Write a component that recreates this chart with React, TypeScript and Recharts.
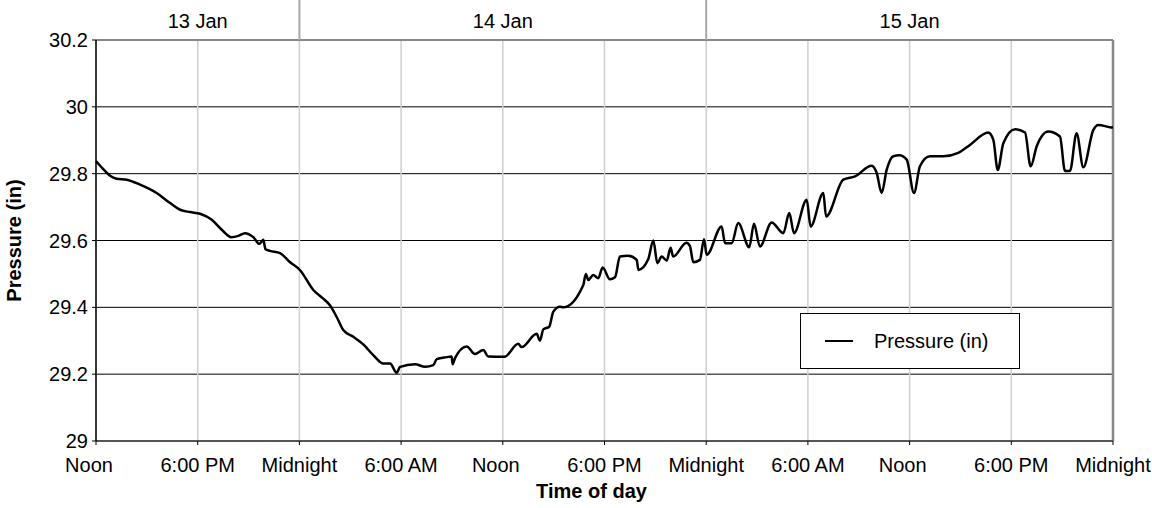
import React from "react";
import {
  LineChart,
  Line,
  XAxis,
  YAxis,
  CartesianGrid,
  ReferenceLine,
  Legend,
} from "recharts";

// hours since noon on 13 Jan
const HOURS = [
  0, 0.4, 0.83, 1.22, 1.81, 2.6, 3.58, 4.37, 4.96, 5.55, 6.14, 6.83, 7.42, 8.0, 8.4, 8.79,
  9.28, 9.64, 9.87, 10.0, 10.27, 10.86, 11.45, 12.04, 12.82, 13.41, 13.8, 14.2, 14.59, 15.18,
  15.77, 16.36, 16.95, 17.35, 17.74, 17.94, 18.82, 19.41, 19.9, 20.1, 20.69, 20.98, 21.04,
  21.18, 21.87, 22.36, 22.85, 23.14, 24.1, 24.91, 25.11, 26.0, 26.19, 26.39, 26.74, 26.98,
  27.37, 27.57, 28.75, 28.9, 29.04, 29.34, 29.63, 29.89, 30.32, 30.62, 30.91, 31.4, 31.9,
  32.0, 32.58, 32.88, 33.12, 33.37, 33.67, 33.9, 34.05, 34.84, 35.04, 35.24, 35.63, 35.87,
  36.03, 36.91, 37.11, 37.5, 37.89, 38.54, 38.82, 39.17, 39.86, 40.55, 40.9, 41.18, 41.93,
  42.16, 42.91, 43.07, 44.09, 44.78, 45.76, 46.06, 46.35, 46.65, 47.04, 47.4, 47.83, 48.26,
  48.61, 49.2, 49.99, 50.87, 51.56, 52.64, 52.94, 53.2, 53.53, 54.22, 54.81, 55.14, 55.5,
  56.18, 56.87, 57.17, 57.46, 57.85, 58.25, 58.84, 59.13, 59.82, 60,
];

const PRESSURE = [
  29.838, 29.815, 29.794, 29.785, 29.782, 29.767, 29.742, 29.712, 29.692, 29.685, 29.68,
  29.662, 29.632, 29.61, 29.614, 29.622, 29.61, 29.59, 29.602, 29.574, 29.569, 29.562,
  29.535, 29.511, 29.452, 29.426, 29.406, 29.371, 29.332, 29.312, 29.289, 29.257, 29.232,
  29.232, 29.204, 29.222, 29.23, 29.222, 29.227, 29.245, 29.251, 29.253, 29.23, 29.248,
  29.283, 29.26, 29.272, 29.253, 29.252, 29.291, 29.281, 29.321, 29.3, 29.334, 29.342,
  29.387, 29.402, 29.4, 29.467, 29.5, 29.482, 29.497, 29.487, 29.519, 29.484, 29.49,
  29.552, 29.554, 29.542, 29.512, 29.544, 29.6, 29.532, 29.552, 29.54, 29.578, 29.552,
  29.593, 29.583, 29.535, 29.542, 29.604, 29.557, 29.642, 29.592, 29.592, 29.652, 29.58,
  29.65, 29.582, 29.654, 29.622, 29.682, 29.622, 29.722, 29.642, 29.742, 29.672, 29.782,
  29.792, 29.824, 29.802, 29.742, 29.812, 29.852, 29.855, 29.842, 29.742, 29.822, 29.852,
  29.852, 29.862, 29.886, 29.923, 29.901, 29.811, 29.891, 29.933, 29.923, 29.822, 29.882,
  29.926, 29.911, 29.808, 29.808, 29.921, 29.819, 29.931, 29.946, 29.939, 29.938,
];

const X_TICKS = [0, 6, 12, 18, 24, 30, 36, 42, 48, 54, 60];
const X_TICK_LABELS = [
  "Noon", "6:00 PM", "Midnight", "6:00 AM", "Noon", "6:00 PM",
  "Midnight", "6:00 AM", "Noon", "6:00 PM", "Midnight",
];
const Y_TICKS = [29, 29.2, 29.4, 29.6, 29.8, 30, 30.2];
const Y_TICK_LABELS = ["29", "29.2", "29.4", "29.6", "29.8", "30", "30.2"];
const DAY_TICKS = [6, 24, 48];
const DAY_LABELS = ["13 Jan", "14 Jan", "15 Jan"];
const MIDNIGHTS = [12, 36];

const data = HOURS.map((h, i) => ({ h, pressure: PRESSURE[i] }));

const FONT = "'Liberation Sans', Arial, sans-serif";

const XTick = (props: any) => {
  const { x, y, payload } = props;
  const label = X_TICK_LABELS[X_TICKS.indexOf(payload.value)];
  const dx = label === "Noon" ? -7 : 0;
  return (
    <text x={x + dx} y={y} dy={14} textAnchor="middle" fontSize={20} fill="#000" fontFamily={FONT}>
      {label}
    </text>
  );
};

// midnight separators run up through the day header
const DayDivider = (props: any) => (
  <line x1={props.x1} x2={props.x2} y1={0} y2={props.y2} stroke="#a8a8a8" strokeWidth={2} />
);

const LegendBox = () => (
  <div
    style={{
      width: 218,
      height: 54,
      border: "1.5px solid #000",
      display: "flex",
      alignItems: "center",
      fontFamily: FONT,
      fontSize: 20,
      background: "#fff",
    }}
  >
    <span style={{ display: "inline-block", width: 28, height: 2.5, background: "#000", marginLeft: 24, marginRight: 21 }} />
    <span>Pressure (in)</span>
  </div>
);

export default function App() {
  return (
    <div style={{ position: "absolute", left: 0, top: 0, background: "#fff" }}>
      <LineChart
        width={1152}
        height={508}
        data={data}
        margin={{ top: 0, right: 39, left: 0, bottom: 0 }}
        style={{ fontFamily: FONT }}
      >
        <CartesianGrid vertical={false} stroke="#000" strokeWidth={1} />
        <CartesianGrid horizontal={false} stroke="#cfcfcf" strokeWidth={1.5} />
        <XAxis
          xAxisId="day"
          orientation="top"
          type="number"
          dataKey="h"
          domain={[0, 60]}
          ticks={DAY_TICKS}
          tickFormatter={(v: number) => DAY_LABELS[DAY_TICKS.indexOf(v)]}
          height={40}
          axisLine={false}
          tickLine={false}
          tickMargin={6}
          tick={{ fontSize: 20, fill: "#000" }}
        />
        <XAxis
          type="number"
          dataKey="h"
          domain={[0, 60]}
          ticks={X_TICKS}
          tick={<XTick />}
          tickSize={4}
          tickMargin={13}
          height={67}
          axisLine={{ stroke: "#555", strokeWidth: 2 }}
          tickLine={{ stroke: "#000" }}
          interval={0}
          label={{
            value: "Time of day",
            position: "insideBottom",
            offset: 10,
            dx: -13,
            fontSize: 20,
            fontWeight: "bold",
            fill: "#000",
          }}
        />
        <YAxis
          type="number"
          domain={[29, 30.2]}
          ticks={Y_TICKS}
          tickFormatter={(v: number) => Y_TICK_LABELS[Y_TICKS.indexOf(v)]}
          width={96}
          tickSize={4}
          tickMargin={4}
          interval={0}
          axisLine={{ stroke: "#000", strokeWidth: 1.5 }}
          tickLine={{ stroke: "#000" }}
          tick={{ fontSize: 20, fill: "#000" }}
          label={{
            value: "Pressure (in)",
            angle: -90,
            position: "center",
            dx: -34,
            fontSize: 20,
            fontWeight: "bold",
            fill: "#000",
          }}
        />
        <ReferenceLine y={30.2} stroke="#888" strokeWidth={2} />
        <ReferenceLine x={60} stroke="#888" strokeWidth={2.5} />
        {MIDNIGHTS.map((m) => (
          <ReferenceLine key={m} x={m} shape={<DayDivider />} />
        ))}
        <Legend
          layout="horizontal"
          verticalAlign="middle"
          align="center"
          content={<LegendBox />}
          wrapperStyle={{ position: "absolute", left: 800, top: 313, width: 220, height: 56 }}
        />
        <Line
          type="monotone"
          dataKey="pressure"
          name="Pressure (in)"
          stroke="#000"
          strokeWidth={2.5}
          dot={false}
          isAnimationActive={false}
        />
      </LineChart>
    </div>
  );
}
